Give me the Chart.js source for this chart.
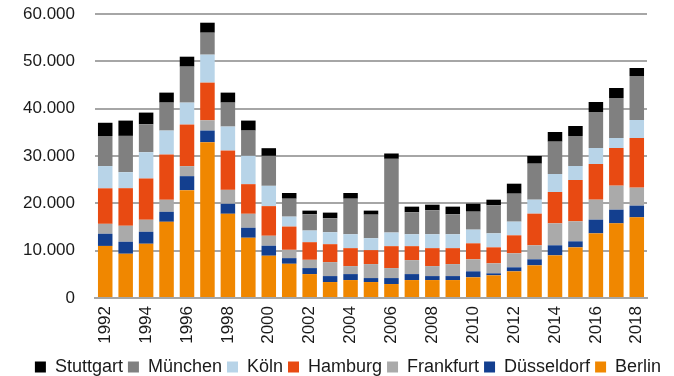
<!DOCTYPE html>
<html>
<head>
<meta charset="utf-8">
<script src="https://cdn.jsdelivr.net/npm/chart.js@4/dist/chart.umd.min.js"></script>
<style>
  html, body { margin: 0; padding: 0; background: #ffffff; }
  #wrap { width: 674px; height: 376px; }
</style>
</head>
<body>
<div id="wrap"><canvas id="chart" width="674" height="376"></canvas></div>
<script>
// Jahre (Kategorien)
const years = [1992, 1993, 1994, 1995, 1996, 1997, 1998, 1999, 2000, 2001, 2002, 2003, 2004,
  2005, 2006, 2007, 2008, 2009, 2010, 2011, 2012, 2013, 2014, 2015, 2016, 2017, 2018];

// Werte je Stadt
const berlin     = [11000, 9350, 11460, 16100, 22780, 32910, 17790, 12730, 8930, 7230, 5050, 3370, 3790, 3370, 2950, 3790, 3790, 3790, 4370, 4790, 5630, 6900, 9010, 10700, 13660, 15770, 17040];
const duesseldorf = [2570, 2530, 2530, 2110, 2960, 2460, 2110, 2110, 2110, 1190, 1270, 1260, 1260, 840, 1260, 1260, 840, 840, 1260, 420, 850, 1270, 2120, 1270, 2890, 2890, 2470];
const frankfurt  = [2100, 3380, 2540, 2540, 2110, 2180, 2950, 2950, 2110, 1760, 1750, 2950, 1690, 2950, 2110, 2950, 2110, 2530, 2540, 2110, 2960, 2960, 4640, 4230, 4220, 5070, 3800];
const hamburg    = [7500, 7940, 8720, 9560, 8790, 7950, 8300, 6260, 6260, 4910, 3720, 3790, 3790, 2950, 4630, 2950, 3790, 3370, 3380, 3380, 3800, 6690, 6620, 8730, 7540, 7960, 10490];
const koeln      = [4700, 3380, 5550, 5060, 4640, 5910, 5070, 5980, 4290, 2100, 2460, 2520, 2940, 2520, 2870, 2520, 2940, 2940, 2890, 2960, 2890, 2950, 3810, 2960, 3380, 2110, 3810];
const muenchen   = [6350, 7670, 5910, 5910, 7600, 4640, 5060, 5340, 6330, 3790, 3430, 2950, 7510, 4980, 15580, 4640, 5060, 4210, 3800, 5920, 5910, 7610, 6830, 6340, 7610, 8450, 9290];
const stuttgart  = [2800, 3230, 2460, 2110, 2100, 2110, 2110, 2110, 1620, 1200, 780, 1200, 1200, 850, 1130, 1190, 1190, 1620, 1690, 1190, 2110, 1620, 2040, 2110, 2110, 2120, 1690];

// Achsenbeschriftung: nur jedes zweite Jahr
const yearTicks = years.map((y, i) => (i % 2 === 0 ? String(y) : ''));

const FONT = "'Liberation Sans', Arial, sans-serif";

function fmt(v) {
  return String(v).replace(/\B(?=(\d{3})+(?!\d))/g, '.');
}

// Legende nach dem Layout etwas nach unten rücken
const legendShift = {
  id: 'legendShift',
  afterLayout(chart) {
    const lg = chart.legend;
    if (lg) { lg.top += 10; lg.bottom += 10; }
  }
};

new Chart(document.getElementById('chart'), {
  type: 'bar',
  data: {
    labels: years,
    datasets: [
      { label: 'Berlin',     data: berlin,      backgroundColor: '#f08700' },
      { label: 'Düsseldorf', data: duesseldorf, backgroundColor: '#133f8f' },
      { label: 'Frankfurt',  data: frankfurt,   backgroundColor: '#aaaaaa' },
      { label: 'Hamburg',    data: hamburg,     backgroundColor: '#e84a12' },
      { label: 'Köln',       data: koeln,       backgroundColor: '#b8d4e8' },
      { label: 'München',    data: muenchen,    backgroundColor: '#808080' },
      { label: 'Stuttgart',  data: stuttgart,   backgroundColor: '#000000' }
    ]
  },
  plugins: [legendShift],
  options: {
    responsive: false,
    animation: false,
    devicePixelRatio: 1,
    layout: { padding: { left: 22, right: 0, top: 14, bottom: 0 } },
    datasets: { bar: { categoryPercentage: 1, barPercentage: 0.71, borderWidth: 0 } },
    plugins: {
      tooltip: { enabled: false },
      legend: {
        position: 'bottom',
        reverse: true,
        labels: {
          boxWidth: 11,
          boxHeight: 11,
          padding: 5,
          color: '#1a1a1a',
          font: { family: FONT, size: 18 }
        }
      }
    },
    scales: {
      x: {
        stacked: true,
        grid: { display: false, drawTicks: false },
        border: { display: true, color: '#a6a6a6', width: 2 },
        ticks: {
          autoSkip: false,
          maxRotation: 90,
          minRotation: 90,
          padding: 8,
          color: '#1a1a1a',
          font: { family: FONT, size: 17 },
          callback: (v, i) => yearTicks[i]
        },
        afterFit: (s) => { s.height = 45; }
      },
      y: {
        stacked: true,
        min: 0,
        max: 60000,
        ticks: {
          stepSize: 10000,
          padding: 0,
          color: '#1a1a1a',
          font: { family: FONT, size: 17 },
          callback: (v) => fmt(v)
        },
        grid: {
          color: '#a6a6a6',
          lineWidth: 2,
          drawTicks: true,
          tickLength: 20,
          tickColor: 'rgba(0,0,0,0)',
          tickWidth: 0
        },
        border: { display: false },
        afterFit: (s) => { s.width = 73; }
      },
      yRight: {
        position: 'right',
        display: true,
        grid: { display: false, drawTicks: false },
        border: { display: false },
        ticks: { display: false },
        afterFit: (s) => { s.width = 27; }
      }
    }
  }
});
</script>
</body>
</html>
